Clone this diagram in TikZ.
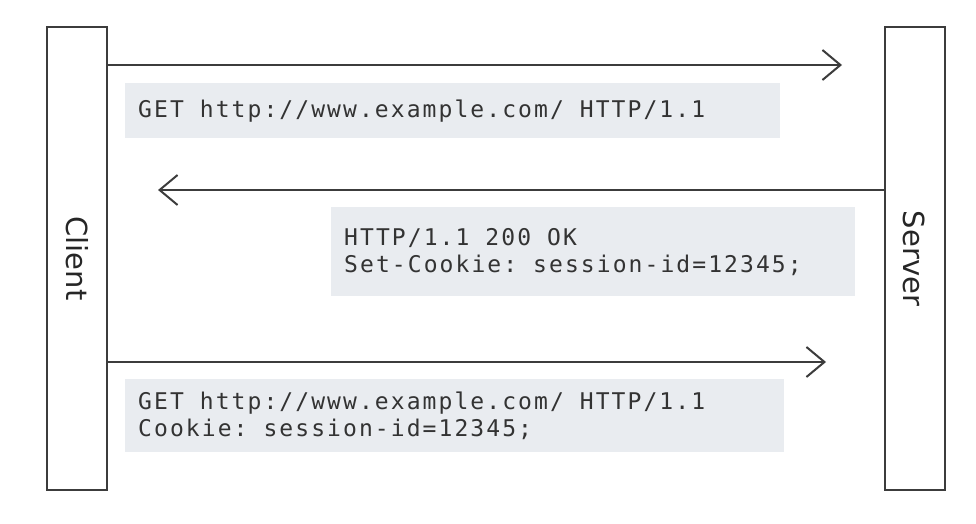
\documentclass[tikz,border=0pt]{standalone}
\usepackage{fontspec}
\setmainfont{DejaVu Sans}
\newfontfamily\codefont[LetterSpace=9]{DejaVu Sans Mono}
\newcommand\gap{\hspace*{16pt}}
\usetikzlibrary{arrows.meta}
\definecolor{edgegray}{HTML}{3C3C3C}
\definecolor{msgfill}{HTML}{E9ECF0}
\tikzset{> = {Straight Barb[length=18pt,width=30pt]}, color=edgegray,
	party/.style={draw=edgegray, line width=2pt, minimum width=60pt, minimum height=463pt, inner sep=0pt},
	msg/.style={->, line width=2pt, draw=edgegray},
	payload/.style={fill=msgfill, draw=none, anchor=north west, inner xsep=13pt, inner ysep=0pt, align=left, text=black!80,
		font=\codefont\fontsize{23}{27}\selectfont}}

\begin{document}
\begin{tikzpicture}[x=1pt, y=-1pt]
		\useasboundingbox (0,0) rectangle (976,524);
		\node[party] (client) at (77,258.5){};
		\node[party] (server) at (914.5,258.5){};
		\node[rotate=-90, font=\fontsize{29}{30}\selectfont, text=black!85] (clientlbl) at (client.center){Client};
		\node[rotate=-90, font=\fontsize{29}{30}\selectfont, text=black!85] (serverlbl) at (server.center){Server};
		% request
		\coordinate (req1a) at (107,65); \coordinate (req1b) at (842,65);
		\draw[msg] (req1a)--(req1b);
		\node[payload, text width=629pt, minimum height=55pt] (req1) at (125,83){GET\gap http://www.example.com/\gap HTTP/1.1};
		% response
		\coordinate (resa) at (885,190); \coordinate (resb) at (158,190);
		\draw[msg] (resa)--(resb);
		\node[payload, text width=498pt, minimum height=89pt] (res) at (331,207){HTTP/1.1\gap 200\gap OK\\Set-Cookie:\gap session-id=12345;};
		% second request
		\coordinate (req2a) at (107,362); \coordinate (req2b) at (826,362);
		\draw[msg] (req2a)--(req2b);
		\node[payload, text width=633pt, minimum height=73pt] (req2) at (125,379){GET\gap http://www.example.com/\gap HTTP/1.1\\Cookie:\gap session-id=12345;};
		\end{tikzpicture}
\end{document}
